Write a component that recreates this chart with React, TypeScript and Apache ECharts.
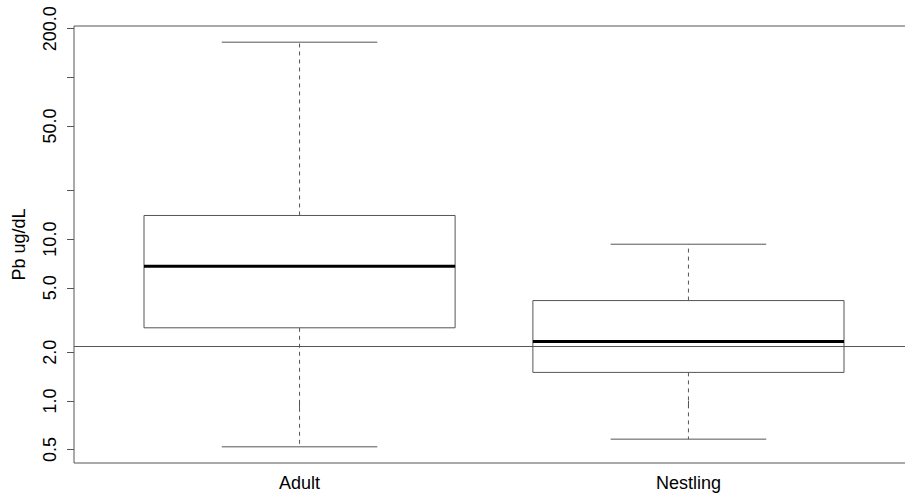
import React, { useEffect, useRef } from "react";
import * as echarts from "echarts";

// ---- data ----
const categories = ["Adult", "Nestling"];
const whiskerLow = [0.52, 0.58];
const quartile1 = [2.83, 1.5];
const medians = [6.8, 2.33];
const quartile3 = [14.0, 4.17];
const whiskerHigh = [165, 9.3];
const referenceValue = 2.18;
const yTickValues = [0.5, 1, 2, 5, 10, 20, 50, 100, 200];
const yLabelValues = [0.5, 1, 2, 5, 10, 50, 200];
const yAxisTitle = "Pb ug/dL";

const lg = (v: number) => Math.log10(v);
const FONT = "Liberation Sans, Arial, Helvetica, sans-serif";
const LINE = "#555";

export default function App() {
  const ref = useRef<HTMLDivElement>(null);

  useEffect(() => {
    if (!ref.current) return;
    const chart = echarts.init(ref.current, undefined, { renderer: "svg" });

    // R-style 4% extension of the data range (log space)
    const lo = lg(Math.min(...whiskerLow));
    const hi = lg(Math.max(...whiskerHigh));
    const pad = (hi - lo) * 0.04;
    const yMin = lo - pad;
    const yMax = hi + pad;
    const n = categories.length;
    const xMin = 0.5 - 0.04 * n;
    const xMax = n + 0.5 + 0.04 * n;

    const boxData = categories.map((_, i) => [
      i + 1,
      lg(whiskerLow[i]),
      lg(quartile1[i]),
      lg(medians[i]),
      lg(quartile3[i]),
      lg(whiskerHigh[i]),
    ]);

    const option: any = {
      animation: false,
      backgroundColor: "#fff",
      grid: {
        left: 74,
        top: 26,
        width: 840,
        height: 437,
        outerBoundsMode: "none",
        containLabel: false,
        show: true,
        borderColor: LINE,
        borderWidth: 1,
        backgroundColor: "transparent",
      },
      xAxis: {
        type: "value",
        min: xMin,
        max: xMax,
        splitLine: { show: false },
        axisLine: { show: false },
        axisTick: {
          show: true,
          length: 7,
          customValues: categories.map((_, i) => i + 1),
          lineStyle: { color: LINE, width: 1 },
        },
        axisLabel: {
          customValues: categories.map((_, i) => i + 1),
          formatter: (v: number) => categories[Math.round(v) - 1] ?? "",
          fontSize: 18,
          fontFamily: FONT,
          color: "#000",
          margin: 11,
        },
      },
      yAxis: {
        type: "value",
        min: yMin,
        max: yMax,
        splitLine: { show: false },
        axisLine: { show: false },
        name: yAxisTitle,
        nameLocation: "middle",
        nameRotate: 90,
        nameGap: 46,
        nameTextStyle: { fontSize: 18, fontFamily: FONT, color: "#000" },
        axisTick: {
          show: true,
          length: 7,
          customValues: yTickValues.map(lg),
          lineStyle: { color: LINE, width: 1 },
        },
        axisLabel: {
          customValues: yLabelValues.map(lg),
          formatter: (v: number) => Math.pow(10, v).toFixed(1),
          rotate: 90,
          fontSize: 18,
          fontFamily: FONT,
          color: "#000",
          margin: 15,
        },
      },
      series: [
        {
          type: "custom",
          data: boxData,
          encode: { x: 0, y: [1, 2, 3, 4, 5] },
          renderItem: (_params: any, api: any) => {
            const x = api.value(0);
            const vLo = api.value(1);
            const vQ1 = api.value(2);
            const vMed = api.value(3);
            const vQ3 = api.value(4);
            const vHi = api.value(5);
            const half = 0.4;
            const cap = 0.2;
            const tl = api.coord([x - half, vQ3]);
            const br = api.coord([x + half, vQ1]);
            const mL = api.coord([x - half, vMed]);
            const mR = api.coord([x + half, vMed]);
            const cQ3 = api.coord([x, vQ3]);
            const cQ1 = api.coord([x, vQ1]);
            const cHi = api.coord([x, vHi]);
            const cLo = api.coord([x, vLo]);
            const hiL = api.coord([x - cap, vHi]);
            const hiR = api.coord([x + cap, vHi]);
            const loL = api.coord([x - cap, vLo]);
            const loR = api.coord([x + cap, vLo]);
            const thin = { stroke: LINE, lineWidth: 1, fill: "none" };
            const dashed = { stroke: LINE, lineWidth: 1, lineDash: [4, 4] };
            return {
              type: "group",
              children: [
                {
                  type: "line",
                  shape: { x1: cQ3[0], y1: cQ3[1], x2: cHi[0], y2: cHi[1] },
                  style: dashed,
                },
                {
                  type: "line",
                  shape: { x1: cQ1[0], y1: cQ1[1], x2: cLo[0], y2: cLo[1] },
                  style: dashed,
                },
                {
                  type: "line",
                  shape: { x1: hiL[0], y1: hiL[1], x2: hiR[0], y2: hiR[1] },
                  style: thin,
                },
                {
                  type: "line",
                  shape: { x1: loL[0], y1: loL[1], x2: loR[0], y2: loR[1] },
                  style: thin,
                },
                {
                  type: "rect",
                  shape: {
                    x: tl[0],
                    y: tl[1],
                    width: br[0] - tl[0],
                    height: br[1] - tl[1],
                  },
                  style: thin,
                },
                {
                  type: "line",
                  shape: { x1: mL[0], y1: mL[1], x2: mR[0], y2: mR[1] },
                  style: { stroke: "#000", lineWidth: 3 },
                },
              ],
            };
          },
          markLine: {
            silent: true,
            symbol: "none",
            label: { show: false },
            lineStyle: { color: LINE, width: 1, type: "solid" },
            data: [{ yAxis: lg(referenceValue) }],
          },
          z: 2,
        },
      ],
    };

    chart.setOption(option);
    return () => chart.dispose();
  }, []);

  return (
    <div
      ref={ref}
      style={{ position: "fixed", left: 0, top: 0, width: 905, height: 498, background: "#fff" }}
    />
  );
}
